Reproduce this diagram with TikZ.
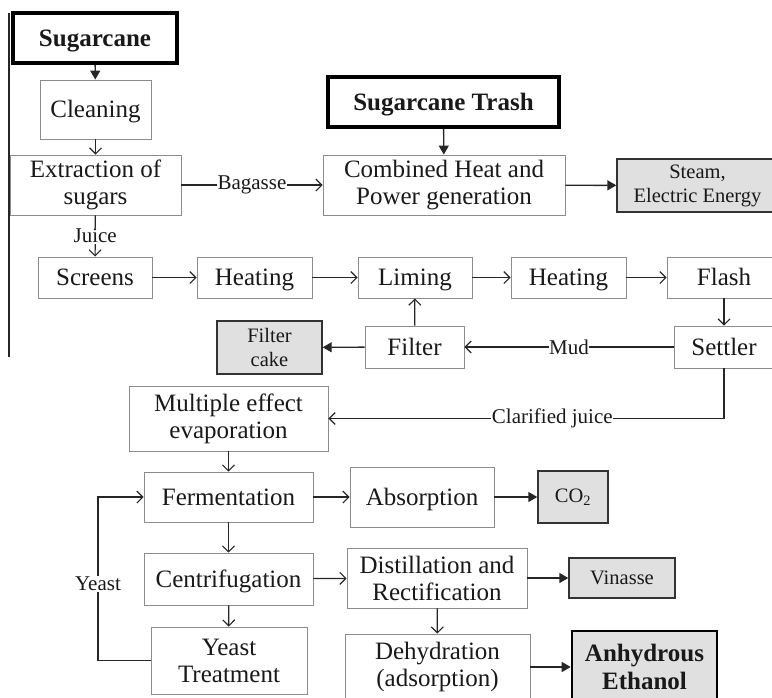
\documentclass[tikz,border=0pt]{standalone}
\usepackage{fontspec}
\setmainfont{Liberation Serif}
\usetikzlibrary{arrows.meta}
\begin{document}
\begin{tikzpicture}[x=1pt,y=-1pt,
  every node/.style={text=black!90, inner sep=1pt, align=center},
  box/.style={draw=black!45, line width=0.9pt, rectangle, font=\fontsize{25}{27}\selectfont},
  one/.style={text height=16.5pt, text depth=0pt},
  outbox/.style={draw=black!80, fill=black!12, line width=1.4pt, rectangle, font=\fontsize{20.5}{24}\selectfont},
  thickbox/.style={draw=black, line width=3.4pt, rectangle, font=\fontsize{25}{28}\selectfont\bfseries},
  lab/.style={fill=white, inner sep=0.6pt, font=\fontsize{21}{24}\selectfont},
  flow/.style={draw=black!85, line width=1.2pt, -{Straight Barb[length=6pt,width=12pt,line width=1.1pt]}},
  prod/.style={draw=black!85, line width=1.4pt, -{Triangle[length=9pt,width=10pt]}},
  plain/.style={draw=black!85, line width=1.2pt}
]
\useasboundingbox (0,0) rectangle (772,697);
\clip (0,0) rectangle (772,697);

% left edge line
\coordinate (lt) at (9,13);
\coordinate (lb) at (9,357);
\draw[draw=black!85, line width=1.1pt] (lt) -- (lb);

% nodes
\node[thickbox, one, minimum width=164, minimum height=50] (sug) at (95,38) {Sugarcane};
\node[box, one, minimum width=111, minimum height=59] (clean) at (95.5,109.5) {Cleaning};
\node[box, minimum width=171, minimum height=60] (extr) at (95.5,185) {Extraction of\\sugars};
\node[thickbox, one, minimum width=231, minimum height=50] (trash) at (443.5,102) {Sugarcane Trash};
\node[box, minimum width=242, minimum height=60] (chp) at (444,185) {Combined Heat and\\Power generation};
\node[outbox, minimum width=161, minimum height=53] (steam) at (697.5,185.5) {Steam,\\Electric Energy};

\node[box, one, minimum width=114, minimum height=41] (screens) at (95,277.5) {Screens};
\node[box, one, minimum width=115, minimum height=41] (heat1) at (254.5,277.5) {Heating};
\node[box, one, minimum width=114, minimum height=41] (liming) at (415,277.5) {Liming};
\node[box, one, minimum width=115, minimum height=41] (heat2) at (568.5,277.5) {Heating};
\node[box, one, minimum width=114, minimum height=41] (flash) at (724,277.5) {Flash};

\node[box, one, minimum width=100, minimum height=42] (settler) at (724,347) {Settler};
\node[box, one, minimum width=99, minimum height=42] (filter) at (414.5,347) {Filter};
\node[outbox, minimum width=105, minimum height=53] (cake) at (269.5,347.5) {Filter\\cake};

\node[box, minimum width=199, minimum height=65] (mee) at (228.5,418.5) {Multiple effect\\evaporation};
\node[box, one, minimum width=169, minimum height=50] (ferm) at (228.5,497) {Fermentation};
\node[box, one, minimum width=169, minimum height=52] (centr) at (228.5,579) {Centrifugation};
\node[box, minimum width=156, minimum height=67] (yeastT) at (229,660.5) {Yeast\\Treatment};

\node[box, one, minimum width=144, minimum height=60] (absorp) at (422,497) {Absorption};
\node[outbox, minimum width=70, minimum height=52] (co2) at (573,497) {CO\textsubscript{2}};
\node[box, minimum width=180, minimum height=60] (distil) at (437,578) {Distillation and\\Rectification};
\node[outbox, minimum width=106, minimum height=40] (vinasse) at (622,578) {Vinasse};
\node[box, minimum width=185, minimum height=66] (dehyd) at (437.5,667) {Dehydration\\(adsorption)};
\node[thickbox, fill=black!12, line width=2.6pt, minimum width=145, minimum height=72] (anh) at (644.5,667) {Anhydrous\\Ethanol};

% connectors
\draw[prod] (sug) -- (clean);
\draw[flow] (clean) -- (extr);
\draw[flow] (extr) -- node[lab] {Bagasse} (chp);
\draw[prod] (trash) -- (chp);
\draw[prod] (chp) -- (steam);
\draw[flow] (extr) -- node[lab] {Juice} (screens);
\draw[flow] (screens) -- (heat1);
\draw[flow] (heat1) -- (liming);
\draw[flow] (liming) -- (heat2);
\draw[flow] (heat2) -- (flash);
\draw[flow] (flash) -- (settler);
\draw[flow] (filter) -- (liming);
\draw[flow] (settler) -- node[lab] {Mud} (filter);
\draw[prod] (filter) -- (cake);
\draw[flow] (settler.south) |- node[lab, pos=0.717] {Clarified juice} (mee.east);
\draw[flow] (mee) -- (ferm);
\draw[flow] (ferm) -- (centr);
\draw[flow] (centr) -- (yeastT);
\coordinate (yc) at (98,660.5);
\draw[flow] (yeastT.west) -- (yc) |- node[lab, pos=0.234] {Yeast} (ferm.west);
\draw[flow] (ferm) -- (absorp);
\draw[prod] (absorp) -- (co2);
\draw[flow] (centr) -- (distil);
\draw[prod] (distil) -- (vinasse);
\draw[flow] (distil) -- (dehyd);
\draw[prod] (dehyd) -- (anh);
\end{tikzpicture}
\end{document}
